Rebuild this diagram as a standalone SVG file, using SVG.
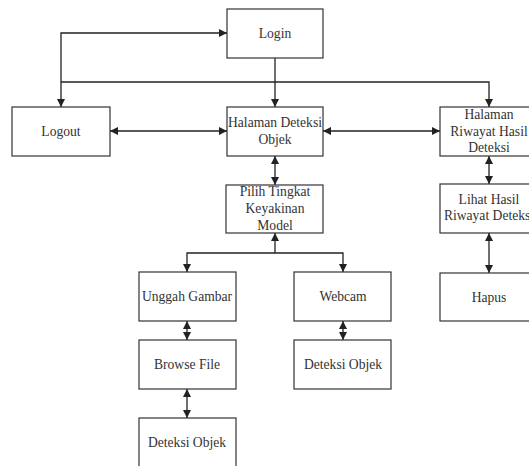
<svg xmlns="http://www.w3.org/2000/svg" width="529" height="466" viewBox="0 0 529 466">
<style>
.box{fill:#fff;stroke:#333;stroke-width:1.2}
.t{font-family:'Liberation Serif','Times New Roman',Tinos,'DejaVu Serif',serif;font-size:13.6px;fill:#333;text-anchor:middle}
.c{fill:none;stroke:#222;stroke-width:1.3}
</style>
<defs>
<marker id="ah" viewBox="0 0 10 10" refX="10" refY="5" markerWidth="8" markerHeight="8" markerUnits="userSpaceOnUse" orient="auto-start-reverse">
<path d="M0,0 L10,5 L0,10 z" fill="#222"/>
</marker>
</defs>
<rect width="529" height="466" fill="#fff"/>
<g id="connectors">
<path class="c" d="M61,107 V33 H227" marker-start="url(#ah)" marker-end="url(#ah)"/>
<path class="c" d="M275,58 V107" marker-end="url(#ah)"/>
<path class="c" d="M275,82 H489 V107" marker-end="url(#ah)"/>
<path class="c" d="M275,82 H61"/>
<path class="c" d="M110,131 H227" marker-start="url(#ah)" marker-end="url(#ah)"/>
<path class="c" d="M323,131 H440" marker-start="url(#ah)" marker-end="url(#ah)"/>
<path class="c" d="M275,156 V185" marker-start="url(#ah)" marker-end="url(#ah)"/>
<path class="c" d="M489,156 V184" marker-start="url(#ah)" marker-end="url(#ah)"/>
<path class="c" d="M489,233 V273" marker-start="url(#ah)" marker-end="url(#ah)"/>
<path class="c" d="M275,233 V253" marker-start="url(#ah)"/>
<path class="c" d="M275,253 H187 V272" marker-end="url(#ah)"/>
<path class="c" d="M275,253 H343 V272" marker-end="url(#ah)"/>
<path class="c" d="M187,321 V340" marker-start="url(#ah)" marker-end="url(#ah)"/>
<path class="c" d="M343,321 V340" marker-start="url(#ah)" marker-end="url(#ah)"/>
<path class="c" d="M187,389 V418" marker-start="url(#ah)" marker-end="url(#ah)"/>
</g>
<g id="login"><rect class="box" x="227" y="9" width="96" height="49"/><text class="t" x="275" y="38">Login</text></g>
<g id="logout"><rect class="box" x="12" y="107" width="98" height="49"/><text class="t" x="61" y="136">Logout</text></g>
<g id="halaman-deteksi"><rect class="box" x="227" y="107" width="96" height="49"/><text class="t" x="275" y="127">Halaman Deteksi</text><text class="t" x="275" y="144">Objek</text></g>
<g id="halaman-riwayat"><rect class="box" x="440" y="107" width="98" height="49"/><text class="t" x="489" y="119">Halaman</text><text class="t" x="489" y="136">Riwayat Hasil</text><text class="t" x="489" y="152">Deteksi</text></g>
<g id="pilih"><rect class="box" x="226" y="185" width="97" height="48"/><text class="t" x="275" y="196">Pilih Tingkat</text><text class="t" x="275" y="213">Keyakinan</text><text class="t" x="275" y="230">Model</text></g>
<g id="lihat"><rect class="box" x="440" y="184" width="98" height="49"/><text class="t" x="489" y="204">Lihat Hasil</text><text class="t" x="489" y="220">Riwayat Deteksi</text></g>
<g id="hapus"><rect class="box" x="440" y="273" width="98" height="48"/><text class="t" x="489" y="302">Hapus</text></g>
<g id="unggah"><rect class="box" x="139" y="272" width="97" height="49"/><text class="t" x="187" y="301">Unggah Gambar</text></g>
<g id="webcam"><rect class="box" x="294" y="272" width="97" height="49"/><text class="t" x="343" y="301">Webcam</text></g>
<g id="browse"><rect class="box" x="139" y="340" width="97" height="49"/><text class="t" x="187" y="369">Browse File</text></g>
<g id="deteksi-webcam"><rect class="box" x="294" y="340" width="97" height="49"/><text class="t" x="343" y="369">Deteksi Objek</text></g>
<g id="deteksi-unggah"><rect class="box" x="139" y="418" width="97" height="60"/><text class="t" x="187" y="447">Deteksi Objek</text></g>
</svg>
